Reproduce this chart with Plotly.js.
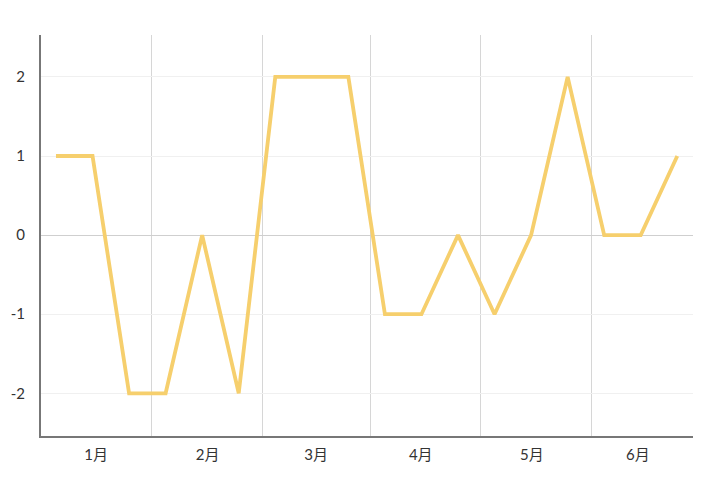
<!DOCTYPE html>
<html>
<head>
<meta charset="utf-8">
<script src="https://cdn.plot.ly/plotly-3.0.1.min.js"></script>
<style>html,body{margin:0;padding:0;background:#fff;}#chart{width:720px;height:489px;}</style>
</head>
<body>
<div id="chart"></div>
<script>
// Data
const pointIndex = [0,1,2,3,4,5,6,7,8,9,10,11,12,13,14,15,16,17];
const values = [1,1,-2,-2,0,-2,2,2,2,-1,-1,0,-1,0,2,0,0,1];
const monthLabels = ['1月','2月','3月','4月','5月','6月'];
const yTicks = [-2,-1,0,1,2];

const fontFam = 'Lato, "Noto Sans CJK SC", sans-serif';

const trace = {
  x: pointIndex,
  y: values,
  type: 'scatter',
  mode: 'lines',
  line: {color: '#f6cf6d', width: 3.8},
  hoverinfo: 'skip'
};

const layout = {
  width: 720, height: 489,
  margin: {l: 41, r: 27, t: 35, b: 53},
  paper_bgcolor: '#fff', plot_bgcolor: '#fff',
  showlegend: false,
  xaxis: {
    range: [-0.41, 17.43],
    tickmode: 'array',
    tickvals: [1.1, 4.15, 7.12, 9.98, 13.02, 15.92],
    ticktext: monthLabels,
    ticks: '',
    showgrid: false,
    zeroline: false,
    showline: true, linecolor: '#777', linewidth: 2,
    tickfont: {family: fontFam, size: 15, color: '#333'},
    ticklabelstandoff: 4,
    minor: {
      tickmode: 'array',
      tickvals: [2.62, 5.65, 8.61, 11.61, 14.65],
      showgrid: true, gridcolor: '#d6d6d6', gridwidth: 1,
      ticks: ''
    },
    fixedrange: true
  },
  yaxis: {
    range: [-2.54, 2.53],
    tickmode: 'array',
    tickvals: yTicks,
    ticktext: yTicks.map(String),
    ticks: '',
    showgrid: true, gridcolor: '#f0f0f0', gridwidth: 1,
    zeroline: true, zerolinecolor: '#cfcfcf', zerolinewidth: 1,
    showline: true, linecolor: '#777', linewidth: 2,
    tickfont: {family: fontFam, size: 15, color: '#333'},
    ticklabelstandoff: 11,
    fixedrange: true
  }
};

Plotly.newPlot('chart', [trace], layout, {displayModeBar: false, staticPlot: true});
</script>
</body>
</html>
